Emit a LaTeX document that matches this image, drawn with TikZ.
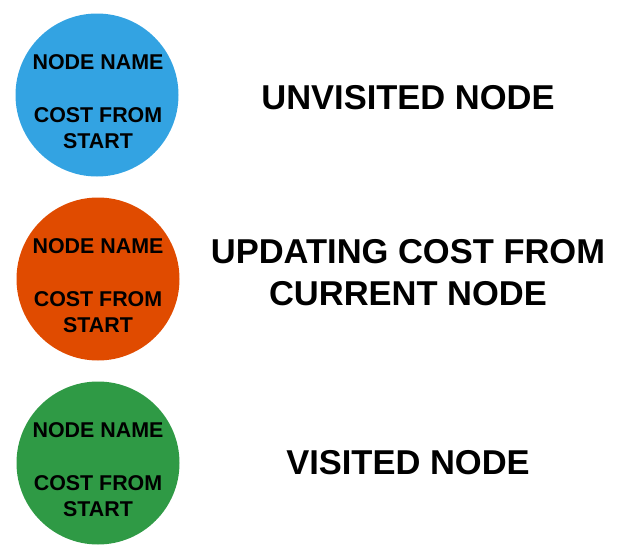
\documentclass[tikz,border=0pt]{standalone}
\usepackage{fontspec}
\setmainfont{Liberation Sans}
\definecolor{cblue}{HTML}{33A3E2}
\definecolor{corange}{HTML}{E04B00}
\definecolor{cgreen}{HTML}{2F9A45}
\begin{document}
\begin{tikzpicture}[x=1pt,y=-1pt,
  state/.style={circle,minimum size=163pt,inner sep=0pt},
  intxt/.style={font=\fontsize{21.4}{26}\selectfont\bfseries,align=center,inner sep=0pt},
  lbl/.style={font=\fontsize{34.5}{42}\selectfont\bfseries,align=center,inner sep=0pt}]
\useasboundingbox (0,0) rectangle (635,557);
\node[state,fill=cblue] (c1) at (97,95) {};
\node[state,fill=corange] (c2) at (98,279) {};
\node[state,fill=cgreen] (c3) at (98,463) {};
\foreach \c/\y in {c1/95,c2/279,c3/463}{
  \node[intxt] (\c n) at (98,\y-33) {NODE NAME};
  \node[intxt] (\c s) at (98,\y+33) {COST FROM\\START};
}
\node[lbl] (l1) at (408,98) {UNVISITED NODE};
\node[lbl] (l2) at (408,273) {UPDATING COST FROM\\CURRENT NODE};
\node[lbl] (l3) at (408,463) {VISITED NODE};
\end{tikzpicture}
\end{document}
